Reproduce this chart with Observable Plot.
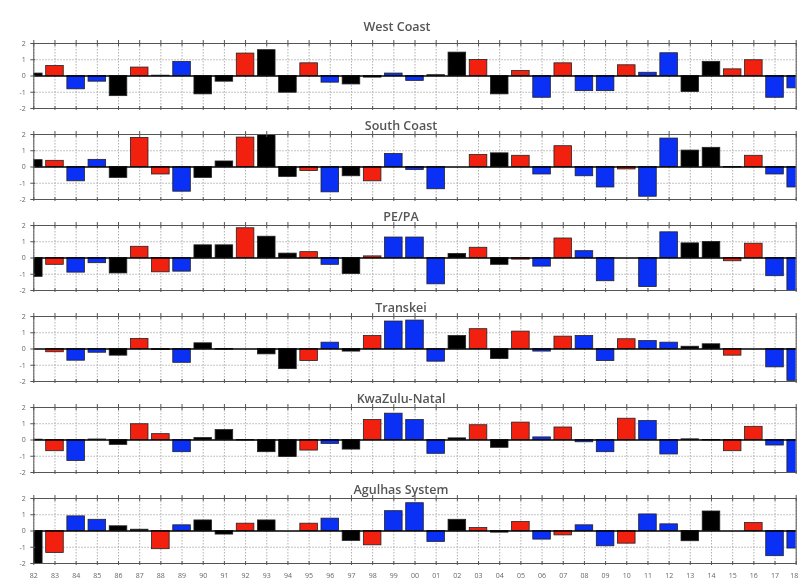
<!DOCTYPE html>
<html><head><meta charset="utf-8">
<script src="https://cdn.jsdelivr.net/npm/d3@7"></script>
<script src="https://cdn.jsdelivr.net/npm/@observablehq/plot@0.6"></script>
<style>body{margin:0;background:#fff;} #chart svg{will-change:transform;}</style>
</head><body><div id="chart"></div>
<script>
const regions = ["West Coast", "South Coast", "PE/PA", "Transkei", "KwaZulu-Natal", "Agulhas System"];
const years = d3.range(1982, 2019);

const westCoast = [0.15, 0.62, -0.82, -0.35, -1.24, 0.52, 0.02, 0.87, -1.13, -0.35, 1.38, 1.59, -1.03, 0.78, -0.41, -0.52, -0.1, 0.15, -0.3, 0.05, 1.44, 0.99, -1.13, 0.31, -1.34, 0.78, -0.93, -0.93, 0.66, 0.2, 1.4, -0.99, 0.87, 0.41, 0.97, -1.34, -0.76];
const southCoast = [0.42, 0.38, -0.88, 0.44, -0.67, 1.79, -0.46, -1.52, -0.67, 0.34, 1.81, 2.0, -0.61, -0.25, -1.56, -0.57, -0.88, 0.8, -0.19, -1.37, 0, 0.74, 0.84, 0.69, -0.46, 1.28, -0.57, -1.26, -0.15, -1.83, 1.75, 1.01, 1.18, -0.03, 0.69, -0.46, -1.26];
const pePa = [-1.16, -0.42, -0.9, -0.32, -0.95, 0.69, -0.88, -0.84, 0.78, 0.78, 1.83, 1.31, 0.27, 0.36, -0.42, -0.99, 0.1, 1.26, 1.26, -1.62, 0.25, 0.63, -0.42, -0.1, -0.53, 1.2, 0.42, -1.43, 0, -1.79, 1.58, 0.9, 0.99, -0.2, 0.88, -1.12, -2.1];
const transkei = [0, -0.2, -0.72, -0.23, -0.41, 0.62, -0.06, -0.85, 0.35, -0.04, 0, -0.33, -1.24, -0.74, 0.39, -0.16, 0.8, 1.69, 1.75, -0.78, 0.8, 1.22, -0.62, 1.07, -0.16, 0.76, 0.8, -0.74, 0.6, 0.49, 0.39, 0.14, 0.29, -0.41, 0, -1.13, -1.96];
const kwazuluNatal = [0.02, -0.69, -1.29, 0.03, -0.3, 0.97, 0.36, -0.75, 0.12, 0.61, -0.03, -0.75, -1.05, -0.65, -0.24, -0.59, 1.23, 1.62, 1.23, -0.85, 0.1, 0.91, -0.48, 1.07, 0.16, 0.77, -0.14, -0.75, 1.31, 1.17, -0.89, 0.04, -0.03, -0.69, 0.81, -0.34, -2.06];
const agulhas = [-2.06, -1.35, 0.9, 0.69, 0.29, 0.08, -1.12, 0.35, 0.65, -0.22, 0.45, 0.65, 0, 0.45, 0.76, -0.61, -0.88, 1.22, 1.71, -0.67, 0.69, 0.18, -0.1, 0.55, -0.53, -0.27, 0.35, -0.94, -0.78, 1.02, 0.41, -0.63, 1.2, 0, 0.49, -1.55, -1.08];

// bar classes: r = red, b = blue, k = black
const westCat     = ["k","r","b","b","k","r","k","b","k","k","r","k","k","r","b","k","k","b","b","k","k","r","k","r","b","r","b","b","r","b","b","k","k","r","r","b","b"];
const southCat    = ["k","r","b","b","k","r","r","b","k","k","r","k","k","r","b","k","r","b","b","b","k","r","k","r","b","r","b","b","r","b","b","k","k","k","r","b","b"];
const pePaCat     = ["k","r","b","b","k","r","r","b","k","k","r","k","k","r","b","k","r","b","b","b","k","r","k","r","b","r","b","b","k","b","b","k","k","r","r","b","b"];
const transkeiCat = ["k","r","b","b","k","r","k","b","k","k","k","k","k","r","b","k","r","b","b","b","k","r","k","r","b","r","b","b","r","b","b","k","k","r","k","b","b"];
const kznCat      = ["k","r","b","k","k","r","r","b","k","k","k","k","k","r","b","k","r","b","b","b","k","r","k","r","b","r","b","b","r","b","b","k","k","r","r","b","b"];
const agulhasCat  = ["k","r","b","b","k","k","r","b","k","k","r","k","k","r","b","k","r","b","b","b","k","r","k","r","b","r","b","b","r","b","b","k","k","k","r","b","b"];

const seriesValues = [westCoast, southCoast, pePa, transkei, kwazuluNatal, agulhas];
const seriesCats = [westCat, southCat, pePaCat, transkeiCat, kznCat, agulhasCat];

const data = regions.flatMap((r, j) => years.map((yr, i) => ({
  region: r, year: yr, value: seriesValues[j][i], cat: seriesCats[j][i]
})));

const halfBar = 0.415;
const yearLabel = d => String(d).slice(2);
const lastRegion = regions[regions.length - 1];

const chart = Plot.plot({
  width: 798,
  height: 583,
  marginLeft: 33.3,
  marginRight: 2.3,
  marginTop: 42.7,
  marginBottom: 19.7,
  style: {fontFamily: "'Open Sans', sans-serif", fontSize: "7px", background: "#fff", overflow: "visible"},
  x: {domain: [1982, 2018]},
  y: {domain: [-2, 2]},
  fy: {domain: regions, axis: null, paddingInner: 0.285, paddingOuter: 0},
  color: {domain: ["r", "b", "k"], range: ["#f2200f", "#0a2ff5", "#000000"]},
  marks: [
    Plot.gridX(years, {stroke: "#b0b0b0", strokeOpacity: 1, strokeDasharray: "1.5,1.5"}),
    Plot.gridY([-1, 1], {stroke: "#b0b0b0", strokeOpacity: 1, strokeDasharray: "1.5,1.5"}),
    Plot.rect(data, {
      x1: d => d.year - halfBar, x2: d => d.year + halfBar,
      y1: 0, y2: "value", fy: "region", fill: "cat",
      stroke: "#222", strokeWidth: 0.8, clip: true
    }),
    Plot.ruleY([0], {stroke: "#000", strokeWidth: 1.4}),
    Plot.frame({stroke: "#555", strokeWidth: 1}),
    Plot.axisX({anchor: "top", ticks: years, tickSize: 6, tickFormat: () => "", label: null, facetAnchor: null, dy: 2, stroke: "#555"}),
    Plot.axisX({anchor: "bottom", ticks: years, tickSize: 4, tickFormat: () => "", label: null, facetAnchor: null, dy: -2, stroke: "#555"}),
    Plot.text(years.slice(0, -1), {x: d => d, fy: () => lastRegion, text: yearLabel, frameAnchor: "bottom", dy: 14, fill: "#666"}),
    Plot.text(years.slice(-1), {x: d => d, fy: () => lastRegion, text: yearLabel, frameAnchor: "bottom", dy: 14, dx: 2, textAnchor: "end", fill: "#666"}),
    Plot.axisY({ticks: [-2, -1, 0, 1, 2], tickSize: 5, tickPadding: 5, tickFormat: d => String(d), label: null, dx: 2, stroke: "#555", fill: "#666"}),
    Plot.text(regions.slice(0, 1), {fy: d => d, text: d => d, frameAnchor: "top", dy: -21, dx: -18, fontSize: 12.5, fontWeight: 600, fill: "#555"}),
    Plot.text(regions.slice(1), {fy: d => d, text: d => d, frameAnchor: "top", dy: -13, dx: -14, fontSize: 12.5, fontWeight: 600, fill: "#555"})
  ]
});
document.getElementById("chart").appendChild(chart);
</script>
</body></html>
